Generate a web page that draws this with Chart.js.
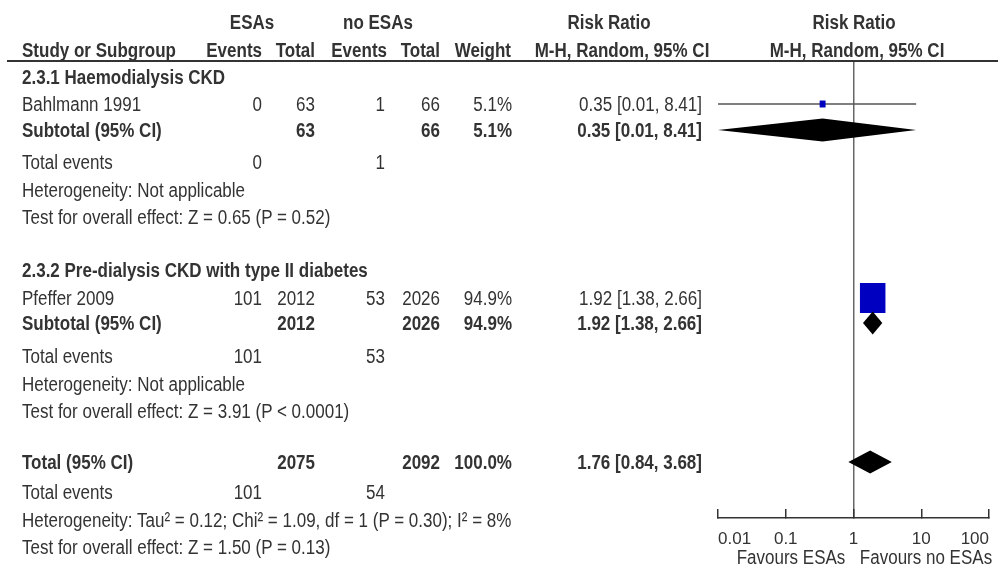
<!DOCTYPE html>
<html>
<head>
<meta charset="utf-8">
<script src="https://cdn.jsdelivr.net/npm/chart.js@4.4.1/dist/chart.umd.min.js"></script>
<style>
  html, body { margin: 0; padding: 0; background: #fff; }
  #wrap { position: relative; width: 998px; height: 566px; overflow: hidden;
          font-family: "Liberation Sans", Arial, sans-serif;
          font-size: 20px; color: #333; }
  #wrap canvas { position: absolute; left: 0; top: 0; }
  /* condensed table lettering */
  .t { position: absolute; white-space: nowrap; line-height: 1;
       transform-origin: 0 50%; transform: translate(0, -50%) scaleX(0.85); }
  .t.r { transform-origin: 100% 50%; transform: translate(-100%, -50%) scaleX(0.85); }
  .t.c { transform-origin: 50% 50%; transform: translate(-50%, -50%) scaleX(0.85); }
  .t.b { font-weight: bold; }
  #rule { position: absolute; left: 7px; top: 60px; width: 991px; height: 2px; background: #333; }
</style>
</head>
<body>
<div id="wrap">
  <canvas id="forest" width="998" height="566" style="width:998px;height:566px"></canvas>
  <div id="rule"></div>
</div>
<script>
// ---------- meta-analysis data ----------
const subgroupTitles = ['2.3.1 Haemodialysis CKD', '2.3.2 Pre-dialysis CKD with type II diabetes'];

const studyNames   = ['Bahlmann 1991', 'Pfeffer 2009'];
const esaEvents    = [0, 101];
const esaTotals    = [63, 2012];
const noEsaEvents  = [1, 53];
const noEsaTotals  = [66, 2026];
const studyWeights = [5.1, 94.9];
const studyRR      = [0.35, 1.92];
const studyLow     = [0.01, 1.38];
const studyHigh    = [8.41, 2.66];

const subEsaTotals    = [63, 2012];
const subNoEsaTotals  = [66, 2026];
const subWeights      = [5.1, 94.9];
const subEsaEvents    = [0, 101];
const subNoEsaEvents  = [1, 53];
const subRR           = [0.35, 1.92];
const subLow          = [0.01, 1.38];
const subHigh         = [8.41, 2.66];
const subHeterogeneity = ['Heterogeneity: Not applicable', 'Heterogeneity: Not applicable'];
const subEffectTest    = ['Test for overall effect: Z = 0.65 (P = 0.52)',
                          'Test for overall effect: Z = 3.91 (P < 0.0001)'];

const totalEsaTotal    = 2075;
const totalNoEsaTotal  = 2092;
const totalWeight      = 100.0;
const totalEsaEvents   = 101;
const totalNoEsaEvents = 54;
const totalRR   = 1.76;
const totalLow  = 0.84;
const totalHigh = 3.68;
const totalHeterogeneity = 'Heterogeneity: Tau\u00b2 = 0.12; Chi\u00b2 = 1.09, df = 1 (P = 0.30); I\u00b2 = 8%';
const totalEffectTest    = 'Test for overall effect: Z = 1.50 (P = 0.13)';

const axisTicks      = [0.01, 0.1, 1, 10, 100];
const axisTickLabels = ['0.01', '0.1', '1', '10', '100'];
const favoursLabels  = ['Favours ESAs', 'Favours no ESAs'];

// ---------- layout ----------
const FONT = '"Liberation Sans", Arial, sans-serif';
const TEXT = '#333';
// vertical centre of each table line, in page pixels
const ROW = {
  head1: 22, head2: 50,
  groupTitle: [77, 270],
  study:      [104, 298],
  subtotal:   [130, 323],
  events:     [162, 356],
  het:        [190, 384],
  test:       [217, 411],
  total: 462, totalEvents: 492, totalHet: 520, totalTest: 547,
  favours: 557
};
// column anchors (left edge for names, right edge for numbers)
const COL = { name: 22, esaEv: 262, esaTot: 315, noEv: 385, noTot: 440, weight: 512, ci: 702 };
const PLOT = { left: 718, right: 989, top: 61, bottom: 518 };
const BOX = { w: 25.5, h: 30, ref: 94.9 };   // box size at the reference weight
const DIAMOND_HALF = 11.5;

const fmtW  = w => w.toFixed(1) + '%';
const fmtCI = (e, l, h) => `${e.toFixed(2)} [${l.toFixed(2)}, ${h.toFixed(2)}]`;

// ---------- table text ----------
const wrap = document.getElementById('wrap');
function put(text, x, y, align, bold) {
  const d = document.createElement('div');
  d.className = 't' + (align === 'r' ? ' r' : align === 'c' ? ' c' : '') + (bold ? ' b' : '');
  d.textContent = text;
  d.style.left = x + 'px';
  d.style.top = y + 'px';
  wrap.appendChild(d);
}

put('ESAs', 252, ROW.head1, 'c', true);
put('no ESAs', 378, ROW.head1, 'c', true);
put('Risk Ratio', 609, ROW.head1, 'c', true);
put('Risk Ratio', 854, ROW.head1, 'c', true);
put('Study or Subgroup', COL.name, ROW.head2, 'l', true);
put('Events', COL.esaEv, ROW.head2, 'r', true);
put('Total', COL.esaTot, ROW.head2, 'r', true);
put('Events', 387, ROW.head2, 'r', true);
put('Total', COL.noTot, ROW.head2, 'r', true);
put('Weight', 511, ROW.head2, 'r', true);
put('M-H, Random, 95% CI', 622, ROW.head2, 'c', true);
put('M-H, Random, 95% CI', 857, ROW.head2, 'c', true);

subgroupTitles.forEach((title, g) => {
  put(title, COL.name, ROW.groupTitle[g], 'l', true);
  const y = ROW.study[g];
  put(studyNames[g], COL.name, y, 'l');
  put(String(esaEvents[g]), COL.esaEv, y, 'r');
  put(String(esaTotals[g]), COL.esaTot, y, 'r');
  put(String(noEsaEvents[g]), COL.noEv, y, 'r');
  put(String(noEsaTotals[g]), COL.noTot, y, 'r');
  put(fmtW(studyWeights[g]), COL.weight, y, 'r');
  put(fmtCI(studyRR[g], studyLow[g], studyHigh[g]), COL.ci, y, 'r');

  const ys = ROW.subtotal[g];
  put('Subtotal (95% CI)', COL.name, ys, 'l', true);
  put(String(subEsaTotals[g]), COL.esaTot, ys, 'r', true);
  put(String(subNoEsaTotals[g]), COL.noTot, ys, 'r', true);
  put(fmtW(subWeights[g]), COL.weight, ys, 'r', true);
  put(fmtCI(subRR[g], subLow[g], subHigh[g]), COL.ci, ys, 'r', true);

  put('Total events', COL.name, ROW.events[g], 'l');
  put(String(subEsaEvents[g]), COL.esaEv, ROW.events[g], 'r');
  put(String(subNoEsaEvents[g]), COL.noEv, ROW.events[g], 'r');
  put(subHeterogeneity[g], COL.name, ROW.het[g], 'l');
  put(subEffectTest[g], COL.name, ROW.test[g], 'l');
});

put('Total (95% CI)', COL.name, ROW.total, 'l', true);
put(String(totalEsaTotal), COL.esaTot, ROW.total, 'r', true);
put(String(totalNoEsaTotal), COL.noTot, ROW.total, 'r', true);
put(fmtW(totalWeight), COL.weight, ROW.total, 'r', true);
put(fmtCI(totalRR, totalLow, totalHigh), COL.ci, ROW.total, 'r', true);
put('Total events', COL.name, ROW.totalEvents, 'l');
put(String(totalEsaEvents), COL.esaEv, ROW.totalEvents, 'r');
put(String(totalNoEsaEvents), COL.noEv, ROW.totalEvents, 'r');
put(totalHeterogeneity, COL.name, ROW.totalHet, 'l');
put(totalEffectTest, COL.name, ROW.totalTest, 'l');

// ---------- plot ----------
// confidence-interval whiskers of the individual studies
const ciDatasets = studyNames.map((name, i) => ({
  label: name,
  data: [{ x: studyLow[i], y: ROW.study[i] }, { x: studyHigh[i], y: ROW.study[i] }],
  showLine: true,
  borderColor: '#555',
  borderWidth: 1.5,
  pointRadius: 0
}));

// weighted study boxes and pooled diamonds, placed through the chart scales
const forestMarks = {
  id: 'forestMarks',
  afterDatasetsDraw(chart) {
    const { ctx, scales: { x, y } } = chart;
    ctx.save();
    studyNames.forEach((name, i) => {
      const cx = x.getPixelForValue(studyRR[i]);
      const cy = y.getPixelForValue(ROW.study[i]);
      const k = Math.sqrt(studyWeights[i] / BOX.ref);
      const w = BOX.w * k, h = BOX.h * k;
      ctx.fillStyle = '#0000c0';
      ctx.fillRect(cx - w / 2, cy - h / 2, w, h);
    });
    const diamond = (est, lo, hi, rowY) => {
      const cy = y.getPixelForValue(rowY);
      const xl = x.getPixelForValue(lo), xe = x.getPixelForValue(est), xh = x.getPixelForValue(hi);
      ctx.beginPath();
      ctx.moveTo(xl, cy);
      ctx.lineTo(xe, cy - DIAMOND_HALF);
      ctx.lineTo(xh, cy);
      ctx.lineTo(xe, cy + DIAMOND_HALF);
      ctx.closePath();
      ctx.fillStyle = '#000';
      ctx.fill();
    };
    subRR.forEach((e, g) => diamond(e, subLow[g], subHigh[g], ROW.subtotal[g]));
    diamond(totalRR, totalLow, totalHigh, ROW.total);
    ctx.restore();
  }
};

const chart = new Chart(document.getElementById('forest'), {
  type: 'scatter',
  data: { datasets: ciDatasets },
  options: {
    responsive: false,
    animation: false,
    devicePixelRatio: 1,
    layout: { padding: { left: PLOT.left, right: 998 - PLOT.right, top: PLOT.top, bottom: 0 } },
    plugins: { legend: { display: false }, tooltip: { enabled: false } },
    scales: {
      x: {
        type: 'logarithmic',
        min: axisTicks[0],
        max: axisTicks[axisTicks.length - 1],
        position: 'bottom',
        afterBuildTicks: s => { s.ticks = axisTicks.map(v => ({ value: v })); },
        afterFit: s => { s.height = 566 - PLOT.bottom; s.paddingLeft = 0; s.paddingRight = 0; },
        ticks: {
          autoSkip: false,
          maxRotation: 0,
          align: 'inner',
          padding: 20,
          color: TEXT,
          font: { family: FONT, size: 17 },
          callback: v => axisTickLabels[axisTicks.indexOf(v)]
        },
        grid: {
          drawOnChartArea: true,
          drawTicks: true,
          tickLength: -9,
          tickColor: '#333',
          tickWidth: 1.5,
          lineWidth: 1.5,
          color: c => (c.tick && c.tick.value === 1 ? '#666' : 'rgba(0,0,0,0)')
        },
        border: { display: true, color: '#333', width: 1.5 }
      },
      y: { type: 'linear', min: PLOT.top, max: PLOT.bottom, reverse: true, display: false }
    }
  },
  plugins: [forestMarks]
});

// axis captions under the scale
put(favoursLabels[0], 791, ROW.favours, 'c');
put(favoursLabels[1], 926, ROW.favours, 'c');
</script>
</body>
</html>
